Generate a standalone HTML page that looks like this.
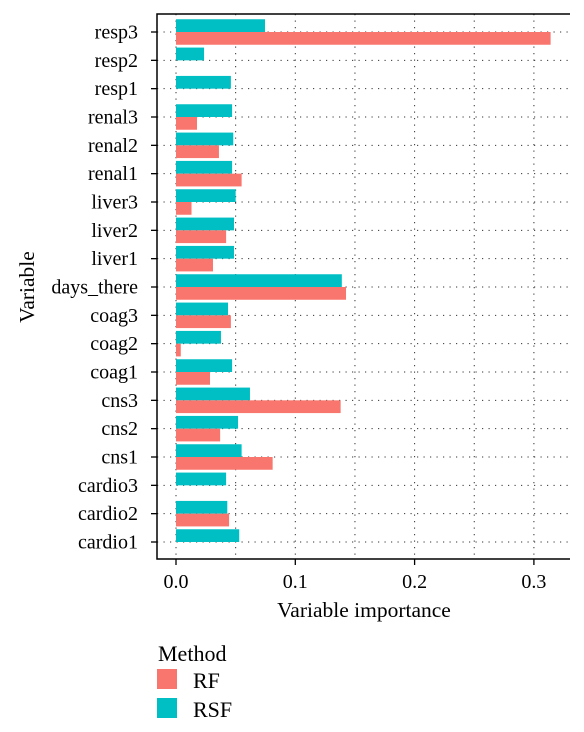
<!DOCTYPE html>
<html><head><meta charset="utf-8"><style>
body{margin:0;background:#fff}
svg{display:block;font-family:"Liberation Serif",serif}
</style></head><body>
<svg id="chart" width="584" height="732">
<g id="grid"></g><g id="bars"></g><g id="axes"></g>
<text x="364" y="617" font-size="21.5" text-anchor="middle">Variable importance</text>
<text transform="translate(34,287) rotate(-90)" font-size="21.5" text-anchor="middle">Variable</text>
<g>
<text x="158" y="661" font-size="22">Method</text>
<rect x="157" y="669" width="20" height="20" fill="#F8766D"/>
<text x="193" y="688" font-size="22">RF</text>
<rect x="157" y="698" width="20" height="20" fill="#00BFC4"/>
<text x="193" y="717" font-size="22">RSF</text>
</g>
</svg>
<script>
const categories=["resp3","resp2","resp1","renal3","renal2","renal1","liver3","liver2","liver1","days_there","coag3","coag2","coag1","cns3","cns2","cns1","cardio3","cardio2","cardio1"];
const rsfValues=[0.0746,0.0235,0.046,0.047,0.048,0.047,0.050,0.0486,0.0486,0.139,0.0436,0.0377,0.047,0.062,0.052,0.055,0.042,0.043,0.053];
const rfValues=[0.314,0,0,0.0176,0.036,0.055,0.013,0.042,0.031,0.1425,0.046,0.004,0.0285,0.138,0.037,0.081,0,0.0445,0];
const xTicks=[0,0.1,0.2,0.3];
const xTickLabels=["0.0","0.1","0.2","0.3"];
const NS="http://www.w3.org/2000/svg";
const L=157,R=570,T=14,B=559;
const x=v=>176+v*1193;
const step=(542-32)/(categories.length-1);
const y=i=>32+i*step;
const bh=step*0.45;
function mk(tag,attrs,parent){const e=document.createElementNS(NS,tag);for(const k in attrs)e.setAttribute(k,attrs[k]);parent.appendChild(e);return e;}
const grid=document.getElementById('grid'),bars=document.getElementById('bars'),axes=document.getElementById('axes');
for(let v=0;v<=0.33;v+=0.05){
 const l=mk('line',{x1:x(v),x2:x(v),y1:T,y2:B,stroke:'#333','stroke-width':1,'stroke-dasharray':'1.2 5.3'},grid);
 
 
}
categories.forEach((c,i)=>{
 const g=mk('line',{x1:L,x2:R,y1:y(i),y2:y(i),stroke:'#333','stroke-width':1,'stroke-dasharray':'1.2 5.3'},grid);
 
 
 const a=mk('rect',{x:x(0),y:y(i)-bh,width:Math.max(0,x(rsfValues[i])-x(0)),height:bh,fill:'#00BFC4'},bars);
 
 
 const b=mk('rect',{x:x(0),y:y(i),width:Math.max(0,x(rfValues[i])-x(0)),height:bh,fill:'#F8766D'},bars);
 
 
 mk('line',{x1:L-6,x2:L,y1:y(i),y2:y(i),stroke:'#000','stroke-width':1.3},axes);
 const t=mk('text',{x:L-19,y:y(i)+6.5,'font-size':20,'text-anchor':'end'},axes);
 t.textContent=c;
 
 
});
xTicks.forEach((v,i)=>{
 mk('line',{x1:x(v),x2:x(v),y1:B,y2:B+6,stroke:'#000','stroke-width':1.3},axes);
 const t=mk('text',{x:x(v),y:B+29,'font-size':20,'text-anchor':'middle'},axes);
 t.textContent=xTickLabels[i];
 
 
});
mk('polyline',{points:`${R},${T} ${L},${T} ${L},${B} ${R},${B}`,fill:'none',stroke:'#000','stroke-width':1.5},axes);
</script>
</body></html>
